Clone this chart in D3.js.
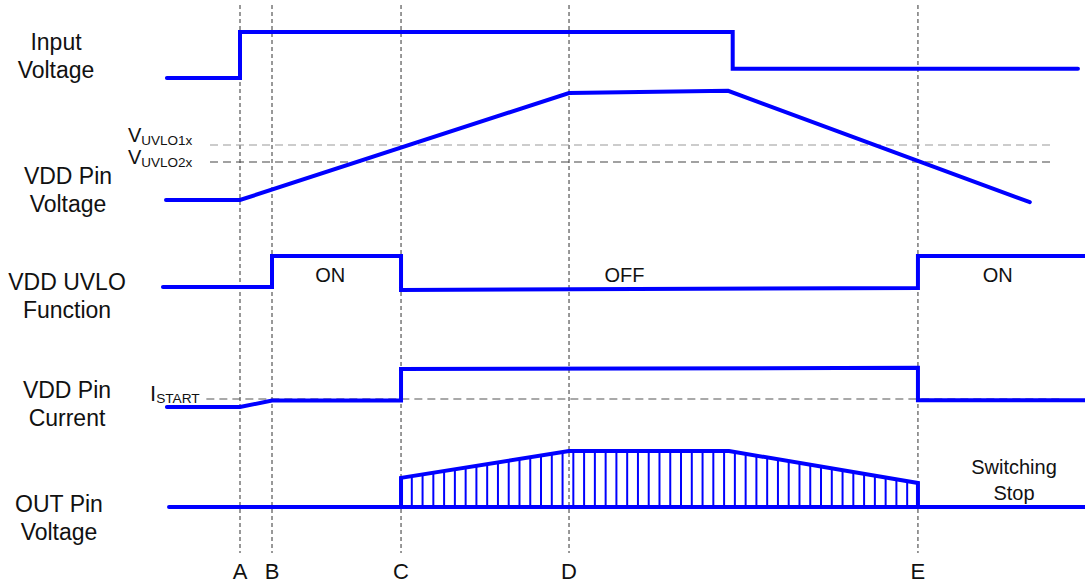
<!DOCTYPE html>
<html>
<head>
<meta charset="utf-8">
<script src="https://cdn.jsdelivr.net/npm/d3@7"></script>
<style>
  body { margin: 0; background: #fff; }
  text { font-family: "Liberation Sans", Arial, sans-serif; fill: #111; }
</style>
</head>
<body>
<svg id="drawing_region"></svg>
<script>
// time axis runs 0..100 across the diagram
const eventLabels = ['A', 'B', 'C', 'D', 'E'];
const eventTimes = [8.07, 11.56, 25.63, 43.95, 82.0];

const rowLabels = [['Input', 'Voltage'], ['VDD Pin', 'Voltage'], ['VDD UVLO', 'Function'], ['VDD Pin', 'Current'], ['OUT Pin', 'Voltage']];

const inputTimes = [0.1, 8.07, 8.07, 61.8, 61.8, 99.45];
const inputLevels = [0, 0, 1, 1, 0.2, 0.2];

const vddTimes = [0, 8.07, 43.95, 61.3, 94.2];
const vddLevels = [0, 0, 1, 1.02, -0.02];
const uvloNames = ['UVLO1x', 'UVLO2x'];
const uvloLevels = [0.514, 0.355];

const funcTimes = [-0.33, 11.56, 11.56, 25.63, 25.63, 82.0, 82.0, 100.2];
const funcLevels = [0.09, 0.09, 1, 1, 0, 0.06, 1, 1];
const funcStates = ['ON', 'OFF', 'ON'];
const funcStateTimes = [17.9, 50.0, 90.7];

const currTimes = [0.1, 8.07, 11.56, 25.63, 25.63, 82.0, 82.0, 100.2];
const currLevels = [0, 0, 0.17, 0.17, 1, 1.03, 0.18, 0.18];
const istartLevel = 0.21;

const outTimes = [0.33, 100.2];
const outLevels = [0, 0];
const envTimes = [25.63, 43.95, 61.4, 82.0];
const envLevels = [0.52, 1, 1, 0.43];
const pulseIntervals = 48;

class TimingChart {
    constructor(config) {
        this.config = config;
        this.init();
    }

    init() {
        let self = this;
        self.svg = d3.select(self.config.parent)
            .attr('width', self.config.width)
            .attr('height', self.config.height);

        self.xscale = d3.scaleLinear().domain([0, 100]).range([166, 1083]);

        // one y scale per signal row: 0 = low level, 1 = high level
        self.yInput = d3.scaleLinear().domain([0, 1]).range([78, 32]);
        self.yVdd = d3.scaleLinear().domain([0, 1]).range([200, 93]);
        self.yFunc = d3.scaleLinear().domain([0, 1]).range([290, 256]);
        self.yCurr = d3.scaleLinear().domain([0, 1]).range([407, 369]);
        self.yOut = d3.scaleLinear().domain([0, 1]).range([507, 451]);

        self.blue = '#0000ff';
    }

    path(times, levels, yscale) {
        let self = this;
        return d3.line()
            .x(i => self.xscale(times[i]))
            .y(i => yscale(levels[i]))(d3.range(times.length));
    }

    render() {
        let self = this;
        const x = self.xscale;

        // event markers
        self.svg.append('g').selectAll('line').data(eventTimes).enter()
            .append('line')
            .attr('x1', d => x(d)).attr('x2', d => x(d))
            .attr('y1', 5).attr('y2', 553)
            .attr('stroke', '#555').attr('stroke-width', 1.2)
            .attr('stroke-dasharray', '4,3');

        self.svg.append('g').selectAll('text').data(eventLabels).enter()
            .append('text')
            .attr('x', (d, i) => x(eventTimes[i]))
            .attr('y', 579)
            .attr('text-anchor', 'middle')
            .attr('font-size', '22px')
            .text(d => d);

        // threshold lines
        const thColors = ['#999', '#444'];
        uvloLevels.forEach((lv, i) => {
            self.svg.append('line')
                .attr('x1', x(4.8)).attr('x2', x(96.7))
                .attr('y1', self.yVdd(lv)).attr('y2', self.yVdd(lv))
                .attr('stroke', thColors[i]).attr('stroke-width', 1.2)
                .attr('stroke-dasharray', '8,5');
            const t = self.svg.append('text')
                .attr('x', 128)
                .attr('y', self.yVdd(lv) - 3 + i * 5)
                .attr('font-size', '20px');
            t.append('tspan').text('V');
            t.append('tspan').attr('font-size', '13.5px').attr('dy', 3).text(uvloNames[i]);
        });

        self.svg.append('line')
            .attr('x1', x(4.4)).attr('x2', x(97.5))
            .attr('y1', self.yCurr(istartLevel)).attr('y2', self.yCurr(istartLevel))
            .attr('stroke', '#555').attr('stroke-width', 1.2)
            .attr('stroke-dasharray', '8,5');
        const it = self.svg.append('text')
            .attr('x', 150).attr('y', 401)
            .attr('font-size', '22px');
        it.append('tspan').text('I');
        it.append('tspan').attr('font-size', '13.7px').attr('dy', 2).text('START');

        // row labels
        const labelX = [56, 68, 67, 67, 59];
        const labelY = [50, 184, 290, 398, 512];
        rowLabels.forEach((lines, r) => {
            self.svg.append('text')
                .attr('x', labelX[r]).attr('y', labelY[r])
                .attr('text-anchor', 'middle')
                .attr('font-size', '23px')
                .selectAll('tspan').data(lines).enter()
                .append('tspan')
                .attr('x', labelX[r])
                .attr('dy', (d, i) => i === 0 ? 0 : 28)
                .text(d => d);
        });

        // state labels
        self.svg.append('g').selectAll('text').data(funcStates).enter()
            .append('text')
            .attr('x', (d, i) => x(funcStateTimes[i]))
            .attr('y', 282)
            .attr('text-anchor', 'middle')
            .attr('font-size', '20px')
            .text(d => d);

        self.svg.append('text')
            .attr('x', 1014).attr('y', 474)
            .attr('text-anchor', 'middle')
            .attr('font-size', '20px')
            .selectAll('tspan').data(['Switching', 'Stop']).enter()
            .append('tspan')
            .attr('x', 1014)
            .attr('dy', (d, i) => i === 0 ? 0 : 26)
            .text(d => d);

        // hatched switching region
        const envY = d3.scaleLinear().domain(envTimes).range(envLevels);
        const tC = envTimes[0], tE = envTimes[envTimes.length - 1];
        const pulses = d3.range(1, pulseIntervals).map(k => tC + (tE - tC) * k / pulseIntervals);
        self.svg.append('g').selectAll('line').data(pulses).enter()
            .append('line')
            .attr('x1', d => x(d)).attr('x2', d => x(d))
            .attr('y1', self.yOut(0)).attr('y2', d => self.yOut(envY(d)))
            .attr('stroke', self.blue).attr('stroke-width', 2);

        const envT = [tC].concat(envTimes, [tE]);
        const envL = [0].concat(envLevels, [0]);

        // signals
        const sigs = [
            [inputTimes, inputLevels, self.yInput],
            [vddTimes, vddLevels, self.yVdd],
            [funcTimes, funcLevels, self.yFunc],
            [currTimes, currLevels, self.yCurr],
            [outTimes, outLevels, self.yOut],
            [envT, envL, self.yOut],
        ];
        self.svg.append('g').selectAll('path').data(sigs).enter()
            .append('path')
            .attr('d', d => self.path(d[0], d[1], d[2]))
            .attr('fill', 'none')
            .attr('stroke', self.blue)
            .attr('stroke-width', 4)
            .attr('stroke-linejoin', 'miter')
            .attr('stroke-linecap', 'round');
    }
}

let chart = new TimingChart({ parent: '#drawing_region', width: 1085, height: 585 });
chart.render();
</script>
</body>
</html>
